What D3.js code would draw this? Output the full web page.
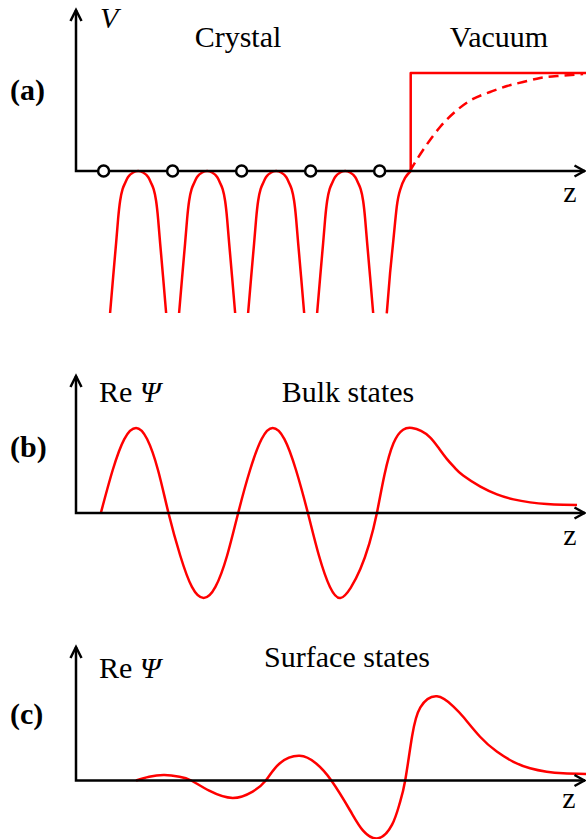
<!DOCTYPE html>
<html><head><meta charset="utf-8">
<script src="https://cdn.jsdelivr.net/npm/d3@7"></script>
<style>html,body{margin:0;padding:0;background:#fff}svg{display:block}text{font-family:"Liberation Serif","Times New Roman",serif}</style>
</head><body>
<script>
// ---------- data ----------
const atomZ = [0.4, 1.4, 2.4, 3.4, 4.4];
const wellCentersZ = [0.9, 1.9, 2.9, 3.9];
// one well of the crystal potential: [offset from well centre, V]
const wellProfile = [
  [-0.406,-1.449],[-0.362,-1.082],[-0.319,-0.735],[-0.290,-0.490],[-0.261,-0.306],
  [-0.225,-0.184],[-0.188,-0.122],[-0.145,-0.061],[-0.072,-0.015],[0,0],
  [0.072,-0.015],[0.145,-0.061],[0.188,-0.122],[0.225,-0.184],[0.261,-0.306],
  [0.290,-0.490],[0.319,-0.735],[0.362,-1.082],[0.406,-1.449]
];
// last half-well at the surface: [z, V]
const surfaceEdge = [[4.503,-1.452],[4.551,-1.041],[4.599,-0.704],[4.648,-0.364],[4.696,-0.194],[4.768,-0.071],[4.85,0]];
const stepPotential = [[4.85,0],[4.85,1],[7.39,1]];
const imagePotential = [[4.85,0],[4.865,0.031],[5.029,0.214],[5.275,0.449],[5.522,0.622],[5.754,0.735],[6.0,0.806],[6.246,0.867],[6.478,0.908],[6.725,0.949],[6.971,0.969],[7.348,0.99]];
// Re Psi, bulk state: [z, psi]
const bulkState = [
  [0.36,0],[0.53,0.5],[0.70,0.87],[0.87,1],[1.03,0.87],[1.19,0.5],[1.34,0],
  [1.51,-0.5],[1.68,-0.87],[1.85,-1],[2.02,-0.87],[2.19,-0.5],[2.35,0],
  [2.52,0.5],[2.69,0.87],[2.85,1],[3.02,0.87],[3.19,0.5],[3.36,0],
  [3.52,-0.5],[3.68,-0.87],[3.83,-1],[3.98,-0.88],[4.12,-0.66],[4.25,-0.36],[4.36,0],
  [4.47,0.45],[4.60,0.82],[4.74,0.98],[4.87,1],[5.00,0.965],[5.13,0.89],[5.25,0.77],[5.37,0.64],
  [5.49,0.53],[5.61,0.44],[5.86,0.31],[6.10,0.22],[6.34,0.16],[6.58,0.125],[6.82,0.105],[7.06,0.097],[7.26,0.094]
];
// Re Psi, surface state: [z, psi]
const surfaceState = [
  [0.87,0],[1.06,0.045],[1.28,0.065],[1.50,0.045],[1.67,0],[1.93,-0.12],[2.27,-0.205],[2.56,-0.13],
  [2.75,0],[2.95,0.2],[3.24,0.29],[3.48,0.2],[3.70,0],[3.97,-0.35],[4.16,-0.59],[4.38,-0.68],
  [4.58,-0.52],[4.69,-0.27],[4.77,0],[4.87,0.52],[4.99,0.86],[5.23,0.99],[5.47,0.87],[5.61,0.75],
  [5.855,0.515],[6.097,0.34],[6.338,0.22],[6.58,0.144],[6.82,0.104],[7.06,0.085],[7.39,0.076]
];
const panelLabels = ["(a)", "(b)", "(c)"];
const titlesA = ["Crystal", "Vacuum"];
const titleB = "Bulk states";
const titleC = "Surface states";
const zMax = 7.39;

// ---------- drawing ----------
const W = 586, H = 839;
const RED = "#ff0000";
const FONT = "Liberation Serif, Times New Roman, serif";
const svg = d3.select("body").append("svg").attr("width", W).attr("height", H)
  .attr("font-family", FONT);

const x = d3.scaleLinear().domain([0, zMax]).range([76, 586]);
const vA = d3.scaleLinear().domain([0, 1]).range([171, 73]);
const pB = d3.scaleLinear().domain([0, 1]).range([513, 428]);
const pC = d3.scaleLinear().domain([0, 1]).range([780.5, 695.5]);

function axes(y0, yTop) {
  const g = svg.append("g").attr("fill", "none").attr("stroke", "#000").attr("stroke-width", 2.5);
  g.append("path").attr("d", `M${x(0)},${yTop}V${y0}H${x(zMax) - 1}`).attr("stroke-linejoin", "miter");
  g.append("path").attr("d", `M${x(0) - 5.5},${yTop + 11}L${x(0)},${yTop}L${x(0) + 5.5},${yTop + 11}`);
  const xt = x(zMax) - 1.5;
  g.append("path").attr("d", `M${xt - 10},${y0 - 5.5}L${xt},${y0}L${xt - 10},${y0 + 5.5}`);
}
function curve(data, yScale, curveType, dash) {
  const line = d3.line().x(d => x(d[0])).y(d => yScale(d[1])).curve(curveType || d3.curveMonotoneX);
  const p = svg.append("path").datum(data).attr("d", line)
    .attr("fill", "none").attr("stroke", RED).attr("stroke-width", 2.5).attr("stroke-linejoin", "round");
  if (dash) p.attr("stroke-dasharray", dash);
  return p;
}
function text(str, tx, ty, opts = {}) {
  return svg.append("text").attr("x", tx).attr("y", ty).text(str)
    .attr("font-family", FONT)
    .attr("font-size", opts.size || 30).attr("text-anchor", opts.anchor || "start")
    .attr("font-weight", opts.weight || "normal").attr("font-style", opts.style || "normal")
    .attr("fill", "#000");
}
function rePsi(tx, ty) {
  const t = svg.append("text").attr("x", tx).attr("y", ty).attr("font-size", 30)
    .attr("font-family", FONT).attr("fill", "#000");
  t.append("tspan").text("Re ");
  t.append("tspan").attr("font-style", "italic").text("Ψ");
}

// Panel (a)
wellCentersZ.forEach(c => curve(wellProfile.map(d => [c + d[0], d[1]]), vA, d3.curveNatural));
curve(surfaceEdge, vA, d3.curveNatural);
curve(stepPotential, vA, d3.curveLinear);
curve(imagePotential, vA, d3.curveNatural, "10,6");
axes(171, 10);
svg.append("g").selectAll("circle").data(atomZ).join("circle")
  .attr("cx", d => x(d)).attr("cy", vA(0)).attr("r", 5.5)
  .attr("fill", "#fff").attr("stroke", "#000").attr("stroke-width", 2.5);
text("V", 100, 28, {style: "italic"});
text(titlesA[0], 238, 47, {anchor: "middle"});
text(titlesA[1], 499, 47, {anchor: "middle"});
text(panelLabels[0], 10, 100, {weight: "bold"});
text("z", 570, 202, {anchor: "middle"});

// Panel (b)
curve(bulkState, pB, d3.curveNatural);
axes(513, 376);
rePsi(99, 402);
text(titleB, 348, 402, {anchor: "middle"});
text(panelLabels[1], 10, 457, {weight: "bold"});
text("z", 570, 545, {anchor: "middle"});

// Panel (c)
curve(surfaceState, pC, d3.curveNatural);
axes(780.5, 647);
rePsi(99, 678);
text(titleC, 347, 667, {anchor: "middle"});
text(panelLabels[2], 10, 724, {weight: "bold"});
text("z", 569, 808, {anchor: "middle"});
</script>
</body></html>
